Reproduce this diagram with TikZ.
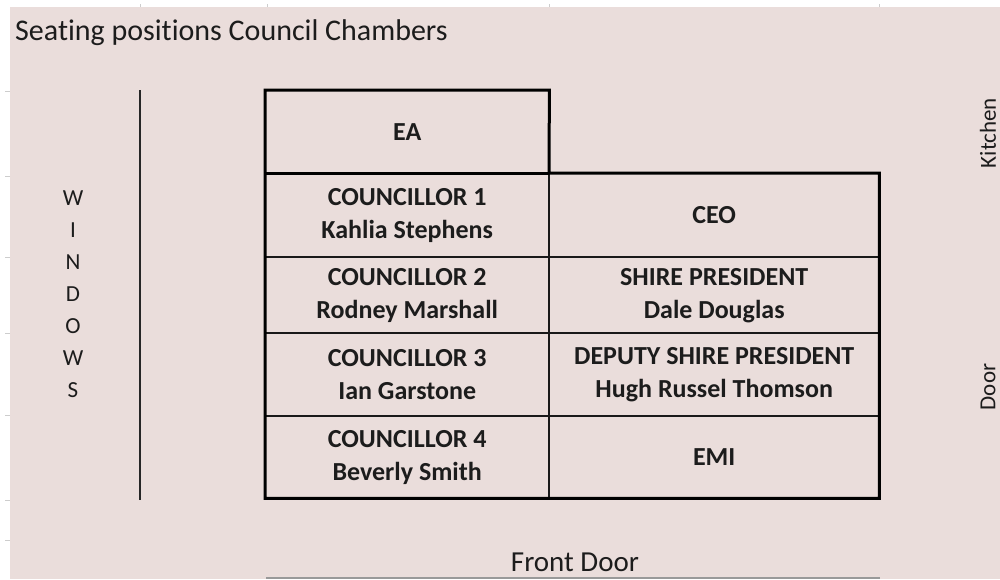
\documentclass[tikz,border=0pt]{standalone}
\usepackage{fontspec}
\setmainfont{Carlito}[Ligatures=NoCommon]
\definecolor{bg}{RGB}{234,221,219}
\definecolor{ink}{RGB}{28,28,28}
\definecolor{tick}{RGB}{205,205,205}
\begin{document}
\begin{tikzpicture}[x=1pt,y=-1pt,
  cellbox/.style={inner sep=0pt, anchor=north west, align=center, text=ink,
    font=\fontsize{26}{33}\selectfont\bfseries},
  thick border/.style={line width=3pt, draw=black, line join=miter},
  thin rule/.style={line width=1.6pt, draw=black!90},
  sidelabel/.style={text=ink, font=\fontsize{23}{32}\selectfont, inner sep=0pt},
  tickmark/.style={draw=tick, line width=1pt}]
\useasboundingbox (0,0) rectangle (1000,579);
\fill[white] (0,0) rectangle (1000,579);
\fill[bg] (10,7) rectangle (1000,579);
% grid remnants
\foreach \yy in {91,176,257,333,415,500,540} \draw[tickmark] (5,\yy) -- (10,\yy);
\foreach \xx in {140,267,549,879} \draw[tickmark] (\xx,4) -- (\xx,7);
% title
\node[anchor=base west, inner sep=0pt, text=ink, font=\fontsize{30}{36}\selectfont] (title) at (15,40) {Seating positions Council Chambers};
% windows wall
\coordinate (wtop) at (140,90);
\coordinate (wbot) at (140,500);
\draw[line width=1.6pt, draw=black!85] (wtop) -- (wbot);
\node[sidelabel, align=center] (windows) at (73,294) {W\\I\\N\\D\\O\\W\\S};
% cells
\node[cellbox, minimum width=284pt, minimum height=83pt] (ea) at (265,90) {EA};
\node[cellbox, minimum width=284pt, minimum height=84pt] (c1) at (265,173) {COUNCILLOR 1\\Kahlia Stephens};
\node[cellbox, minimum width=330pt, minimum height=84pt] (ceo) at (549,173) {CEO};
\node[cellbox, minimum width=284pt, minimum height=76pt] (c2) at (265,257) {COUNCILLOR 2\\Rodney Marshall};
\node[cellbox, minimum width=330pt, minimum height=76pt] (sp) at (549,257) {SHIRE PRESIDENT\\Dale Douglas};
\node[cellbox, minimum width=284pt, minimum height=83pt] (c3) at (265,333) {COUNCILLOR 3\\Ian Garstone};
\node[cellbox, minimum width=330pt, minimum height=83pt] (dsp) at (549,333) {DEPUTY SHIRE PRESIDENT\\Hugh Russel Thomson};
\node[cellbox, minimum width=284pt, minimum height=82pt] (c4) at (265,416) {COUNCILLOR 4\\Beverly Smith};
\node[cellbox, minimum width=330pt, minimum height=82pt] (emi) at (549,416) {EMI};
% inner rules
\draw[thin rule] (ceo.north west) -- (emi.south west);
\draw[thin rule] (c2.north west) -- (sp.north east);
\draw[thin rule] (c3.north west) -- (dsp.north east);
\draw[thin rule] (c4.north west) -- (emi.north east);
% outer border
\draw[thick border] (ea.north west) -- (ea.north east) -- (ceo.north west) -- (ceo.north east) -- (emi.south east) -- (c4.south west) -- cycle;
\draw[thick border] (c1.north west) -- (c1.north east);
% other labels
\node[sidelabel, rotate=90] (kitchen) at (988,133) {Kitchen};
\node[sidelabel, rotate=90] (door) at (988,387) {Door};
\node[inner sep=0pt, text=ink, font=\fontsize{29}{34}\selectfont] (front) at (575,562) {Front Door};
\coordinate (fl) at (266,578);
\coordinate (fr) at (880,578);
\draw[draw=black!40, line width=1.2pt] (fl) -- (fr);
\end{tikzpicture}
\end{document}
